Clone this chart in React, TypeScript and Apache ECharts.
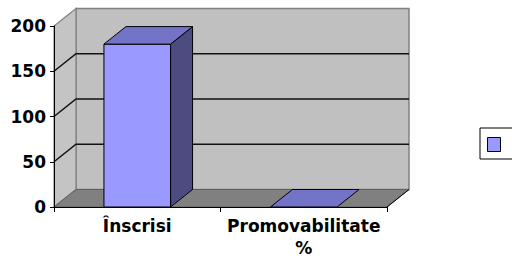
import React, { useEffect, useRef } from "react";
import * as echarts from "echarts";

const categories = ["Înscrisi", "Promovabilitate\n%"];
const values = [180, 0];
const seriesName = "Serie1";
const yMin = 0;
const yMax = 200;
const yInterval = 50;
const gridValues = [50, 100, 150];

const DX = 22;
const DY = -17.5;
const FONT = "DejaVu Sans";

export default function App() {
  const ref = useRef<HTMLDivElement>(null);
  useEffect(() => {
    if (!ref.current) return;
    const chart = echarts.init(ref.current, null, { renderer: "svg" });

    const wallsRender = (params: any, api: any) => {
      const cs = params.coordSys;
      const x0 = cs.x;
      const x1 = cs.x + cs.width;
      const yB = api.coord([0, yMin])[1];
      const yT = api.coord([0, yMax])[1];
      const children: any[] = [];
      children.push({
        type: "polygon",
        shape: { points: [[x0 + DX, yT + DY], [x1 + DX, yT + DY], [x1 + DX, yB + DY], [x0 + DX, yB + DY]] },
        style: { fill: "#c0c0c0", stroke: "#808080", lineWidth: 1.5 },
      });
      children.push({
        type: "polygon",
        shape: { points: [[x0, yB], [x0 + DX, yB + DY], [x0 + DX, yT + DY], [x0, yT]] },
        style: { fill: "#c4c4c4", stroke: "#808080", lineWidth: 1.2 },
      });
      children.push({
        type: "polygon",
        shape: { points: [[x0, yB], [x1, yB], [x1 + DX, yB + DY], [x0 + DX, yB + DY]] },
        style: { fill: "#808080", stroke: "#606060", lineWidth: 1 },
      });
      children.push({
        type: "line",
        shape: { x1: x1, y1: yB, x2: x1 + DX, y2: yB + DY },
        style: { stroke: "#000", lineWidth: 1 },
      });
      gridValues.forEach((v) => {
        const y = api.coord([0, v])[1];
        children.push({
          type: "polyline",
          shape: { points: [[x0, y], [x0 + DX, y + DY], [x1 + DX, y + DY]] },
          style: { stroke: "#111", lineWidth: 1.5, fill: null },
        });
      });
      return { type: "group", children };
    };

    const barsRender = (params: any, api: any) => {
      const idx = api.value(0);
      const val = api.value(1);
      const top = api.coord([idx, val]);
      const base = api.coord([idx, 0]);
      const band = api.size([1, 0])[0];
      const w = band * 0.4;
      const xl = top[0] - w / 2;
      const xr = xl + w;
      const h = base[1] - top[1];
      const children: any[] = [];
      if (h > 0.5) {
        children.push({
          type: "polygon",
          shape: { points: [[xr, top[1]], [xr + DX, top[1] + DY], [xr + DX, base[1] + DY], [xr, base[1]]] },
          style: { fill: "#4c4c80", stroke: "#000", lineWidth: 1 },
        });
        children.push({
          type: "rect",
          shape: { x: xl, y: top[1], width: w, height: h },
          style: { fill: "#9999ff", stroke: "#000", lineWidth: 1 },
        });
      }
      children.push({
        type: "polygon",
        shape: { points: [[xl, top[1]], [xl + DX, top[1] + DY], [xr + DX, top[1] + DY], [xr, top[1]]] },
        style: { fill: "#7373c8", stroke: "#000", lineWidth: 1 },
      });
      return { type: "group", children };
    };

    chart.setOption({
      animation: false,
      grid: { left: 54, right: 125, top: 26, bottom: 56 },
      legend: {
        left: 480,
        top: 128,
        orient: "vertical",
        backgroundColor: "#fff",
        borderColor: "#000",
        borderWidth: 1,
        borderRadius: 0,
        padding: [9, 40, 7, 7],
        itemWidth: 13,
        itemHeight: 14,
        itemGap: 0,
        formatter: () => "",
        data: [
          {
            name: seriesName,
            icon: "rect",
            itemStyle: { color: "#9999ff", borderColor: "#000", borderWidth: 1 },
          },
        ],
      },
      xAxis: {
        type: "category",
        data: categories,
        axisLine: { lineStyle: { color: "#000", width: 1 } },
        axisTick: { show: true, length: 5, lineStyle: { color: "#000" } },
        axisLabel: {
          interval: 0,
          hideOverlap: false,
          color: "#000",
          fontFamily: FONT,
          fontWeight: "bold",
          fontSize: 17,
          lineHeight: 22,
          margin: 8,
        },
        splitLine: { show: false },
        z: 5,
      },
      yAxis: {
        type: "value",
        min: yMin,
        max: yMax,
        interval: yInterval,
        axisLine: { show: true, lineStyle: { color: "#000", width: 1 } },
        axisTick: { show: true, length: 4, lineStyle: { color: "#000" } },
        axisLabel: {
          color: "#000",
          fontFamily: FONT,
          fontWeight: "bold",
          fontSize: 17,
          margin: 8,
        },
        splitLine: { show: false },
        z: 5,
      },
      series: [
        {
          type: "custom",
          name: "walls",
          renderItem: wallsRender,
          data: [[0, 0]],
          z: 1,
          silent: true,
        },
        {
          type: "custom",
          name: seriesName,
          renderItem: barsRender,
          data: values.map((v, i) => [i, v]),
          itemStyle: { color: "#9999ff" },
          z: 3,
        },
      ],
    });
    return () => chart.dispose();
  }, []);
  return (
    <div
      ref={ref}
      style={{ position: "absolute", left: 0, top: 0, width: 512, height: 263 }}
    />
  );
}
